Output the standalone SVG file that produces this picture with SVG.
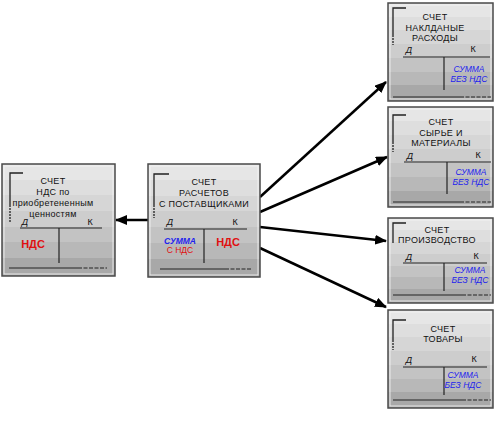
<svg xmlns="http://www.w3.org/2000/svg" width="500" height="434" viewBox="0 0 500 434">
<defs>
<linearGradient id="g" x1="0" y1="0" x2="0" y2="1">
<stop offset="0" stop-color="#e6e6e6"/><stop offset="0.14" stop-color="#e6e6e6"/>
<stop offset="0.14" stop-color="#dedede"/><stop offset="0.28" stop-color="#dedede"/>
<stop offset="0.28" stop-color="#d6d6d6"/><stop offset="0.42" stop-color="#d6d6d6"/>
<stop offset="0.42" stop-color="#cdcdcd"/><stop offset="0.56" stop-color="#cdcdcd"/>
<stop offset="0.56" stop-color="#c3c3c3"/><stop offset="0.70" stop-color="#c3c3c3"/>
<stop offset="0.70" stop-color="#b8b8b8"/><stop offset="0.84" stop-color="#b8b8b8"/>
<stop offset="0.84" stop-color="#a8a8a8"/><stop offset="1" stop-color="#a8a8a8"/>
</linearGradient>
<marker id="ah" viewBox="0 0 12 10" refX="11" refY="5" markerWidth="12" markerHeight="10" markerUnits="userSpaceOnUse" orient="auto">
<path d="M0,0 L12,5 L0,10 Z" fill="#000"/>
</marker>
</defs>
<style>
.box{fill:url(#g);stroke:#4a4a4a;stroke-width:1.5}
.inner{fill:none;stroke:#f4f4f4;stroke-width:0.8}
.ln{stroke:#222;stroke-width:1.2;fill:none}
.dash{stroke:#222;stroke-width:1.2;stroke-dasharray:4 1.5;fill:none}
.br{stroke:#222;stroke-width:1.3;fill:none}
.brd{stroke:#222;stroke-width:1.3;stroke-dasharray:2 1;fill:none}
.t{font-family:"Liberation Sans",Arial,sans-serif;font-size:9px;fill:#111;text-anchor:middle;letter-spacing:0.3px}
.dk{font-family:"Liberation Sans",Arial,sans-serif;font-size:9px;fill:#111;text-anchor:middle}
.d{font-style:italic}
.s{font-family:"Liberation Sans",Arial,sans-serif;font-size:8.5px;fill:#2222ee;font-style:italic;text-anchor:middle}
.r{font-family:"Liberation Sans",Arial,sans-serif;font-size:11px;fill:#e01010;font-weight:bold;text-anchor:middle}
.rs{font-family:"Liberation Sans",Arial,sans-serif;font-size:8.5px;fill:#e01010;text-anchor:middle}
.c{stroke:#000;stroke-width:2.5;fill:none}
</style>

<g id="connectors">
<line class="c" x1="148" y1="220" x2="116" y2="220" marker-end="url(#ah)"/>
<line class="c" x1="260" y1="197" x2="386" y2="82" marker-end="url(#ah)"/>
<line class="c" x1="260" y1="212" x2="387" y2="157" marker-end="url(#ah)"/>
<line class="c" x1="260" y1="227" x2="386" y2="241" marker-end="url(#ah)"/>
<line class="c" x1="260" y1="248" x2="386" y2="307" marker-end="url(#ah)"/>
</g>

<g id="node-nds">
<rect class="box" x="2" y="164" width="113" height="112"/>
<rect class="inner" x="4" y="166" width="109" height="108"/>
<path class="br" d="M23,173 H10 V205"/><path class="brd" d="M10,205 V223"/>
<text class="t" x="53" y="184">СЧЕТ</text>
<text class="t" x="53" y="195">НДС по</text>
<text class="t" x="53" y="206">приобретененным</text>
<text class="t" x="53" y="217">ценностям</text>
<text class="dk d" x="25" y="225">Д</text>
<text class="dk" x="90" y="225">К</text>
<line class="ln" x1="20" y1="228" x2="102" y2="228"/>
<line class="ln" x1="59" y1="228" x2="59" y2="263"/>
<text class="r" x="33" y="248">НДС</text>
<line class="ln" x1="9" y1="268" x2="78" y2="268"/><line class="dash" x1="78" y1="268" x2="107" y2="268"/>
</g>

<g id="node-suppliers">
<rect class="box" x="148" y="164" width="112" height="113"/>
<rect class="inner" x="150" y="166" width="108" height="109"/>
<path class="br" d="M169,174 H154 V205"/><path class="brd" d="M154,205 V218"/>
<text class="t" x="204" y="185">СЧЕТ</text>
<text class="t" x="204" y="196">РАСЧЕТОВ</text>
<text class="t" x="204" y="207">С ПОСТАВЩИКАМИ</text>
<text class="dk d" x="170" y="225">Д</text>
<text class="dk" x="235" y="225">К</text>
<line class="ln" x1="164" y1="229" x2="247" y2="229"/>
<line class="ln" x1="204" y1="229" x2="204" y2="263"/>
<text class="s" x="180" y="244" font-weight="bold">СУММА</text>
<text class="rs" x="180" y="253">С НДС</text>
<text class="r" x="228" y="246">НДС</text>
<line class="ln" x1="160" y1="269" x2="225" y2="269"/><line class="dash" x1="225" y1="269" x2="252" y2="269"/>
</g>

<g id="node-overhead">
<rect class="box" x="388" y="3" width="105" height="98"/>
<rect class="inner" x="390" y="5" width="101" height="94"/>
<path class="br" d="M406,8 H393 V35"/><path class="brd" d="M393,35 V45"/>
<text class="t" x="435" y="20">СЧЕТ</text>
<text class="t" x="435" y="31">НАКЛДАНЫЕ</text>
<text class="t" x="435" y="41">РАСХОДЫ</text>
<text class="dk d" x="409" y="53">Д</text>
<text class="dk" x="473" y="52">К</text>
<line class="ln" x1="403" y1="57" x2="490" y2="57"/>
<line class="ln" x1="444" y1="57" x2="444" y2="90"/>
<text class="s" x="469" y="72">СУММА</text>
<text class="s" x="469" y="82">БЕЗ НДС</text>
<line class="ln" x1="393" y1="97" x2="460" y2="97"/><line class="dash" x1="460" y1="97" x2="491" y2="97"/>
</g>

<g id="node-materials">
<rect class="box" x="388" y="107" width="105" height="100"/>
<rect class="inner" x="390" y="109" width="101" height="96"/>
<path class="br" d="M406,115 H393 V142"/><path class="brd" d="M393,142 V152"/>
<text class="t" x="441" y="125">СЧЕТ</text>
<text class="t" x="441" y="136">СЫРЬЕ И</text>
<text class="t" x="441" y="146">МАТЕРИАЛЫ</text>
<text class="dk d" x="410" y="159">Д</text>
<text class="dk" x="478" y="158">К</text>
<line class="ln" x1="404" y1="162" x2="491" y2="162"/>
<line class="ln" x1="447" y1="162" x2="447" y2="194"/>
<text class="s" x="471" y="175">СУММА</text>
<text class="s" x="471" y="185">БЕЗ НДС</text>
<line class="ln" x1="393" y1="202" x2="460" y2="202"/><line class="dash" x1="460" y1="202" x2="491" y2="202"/>
</g>

<g id="node-production">
<rect class="box" x="388" y="218" width="105" height="85"/>
<rect class="inner" x="390" y="220" width="101" height="81"/>
<path class="br" d="M406,223 H393 V243"/>
<text class="t" x="437" y="233">СЧЕТ</text>
<text class="t" x="437" y="243">ПРОИЗВОДСТВО</text>
<text class="dk d" x="409" y="260">Д</text>
<text class="dk" x="476" y="259">К</text>
<line class="ln" x1="403" y1="263" x2="487" y2="263"/>
<line class="ln" x1="444" y1="263" x2="444" y2="291"/>
<text class="s" x="470" y="273">СУММА</text>
<text class="s" x="470" y="283">БЕЗ НДС</text>
<line class="ln" x1="393" y1="295" x2="462" y2="295"/><line class="dash" x1="462" y1="295" x2="491" y2="295"/>
</g>

<g id="node-goods">
<rect class="box" x="388" y="310" width="105" height="98"/>
<rect class="inner" x="390" y="312" width="101" height="94"/>
<path class="br" d="M406,320 H393 V340"/><path class="brd" d="M393,340 V350"/>
<text class="t" x="443" y="332">СЧЕТ</text>
<text class="t" x="443" y="342">ТОВАРЫ</text>
<text class="dk d" x="409" y="363">Д</text>
<text class="dk" x="474" y="362">К</text>
<line class="ln" x1="403" y1="367" x2="487" y2="367"/>
<line class="ln" x1="444" y1="367" x2="444" y2="395"/>
<text class="s" x="463" y="378">СУММА</text>
<text class="s" x="463" y="388">БЕЗ НДС</text>
<line class="ln" x1="393" y1="400" x2="462" y2="400"/><line class="dash" x1="462" y1="400" x2="491" y2="400"/>
</g>
</svg>
